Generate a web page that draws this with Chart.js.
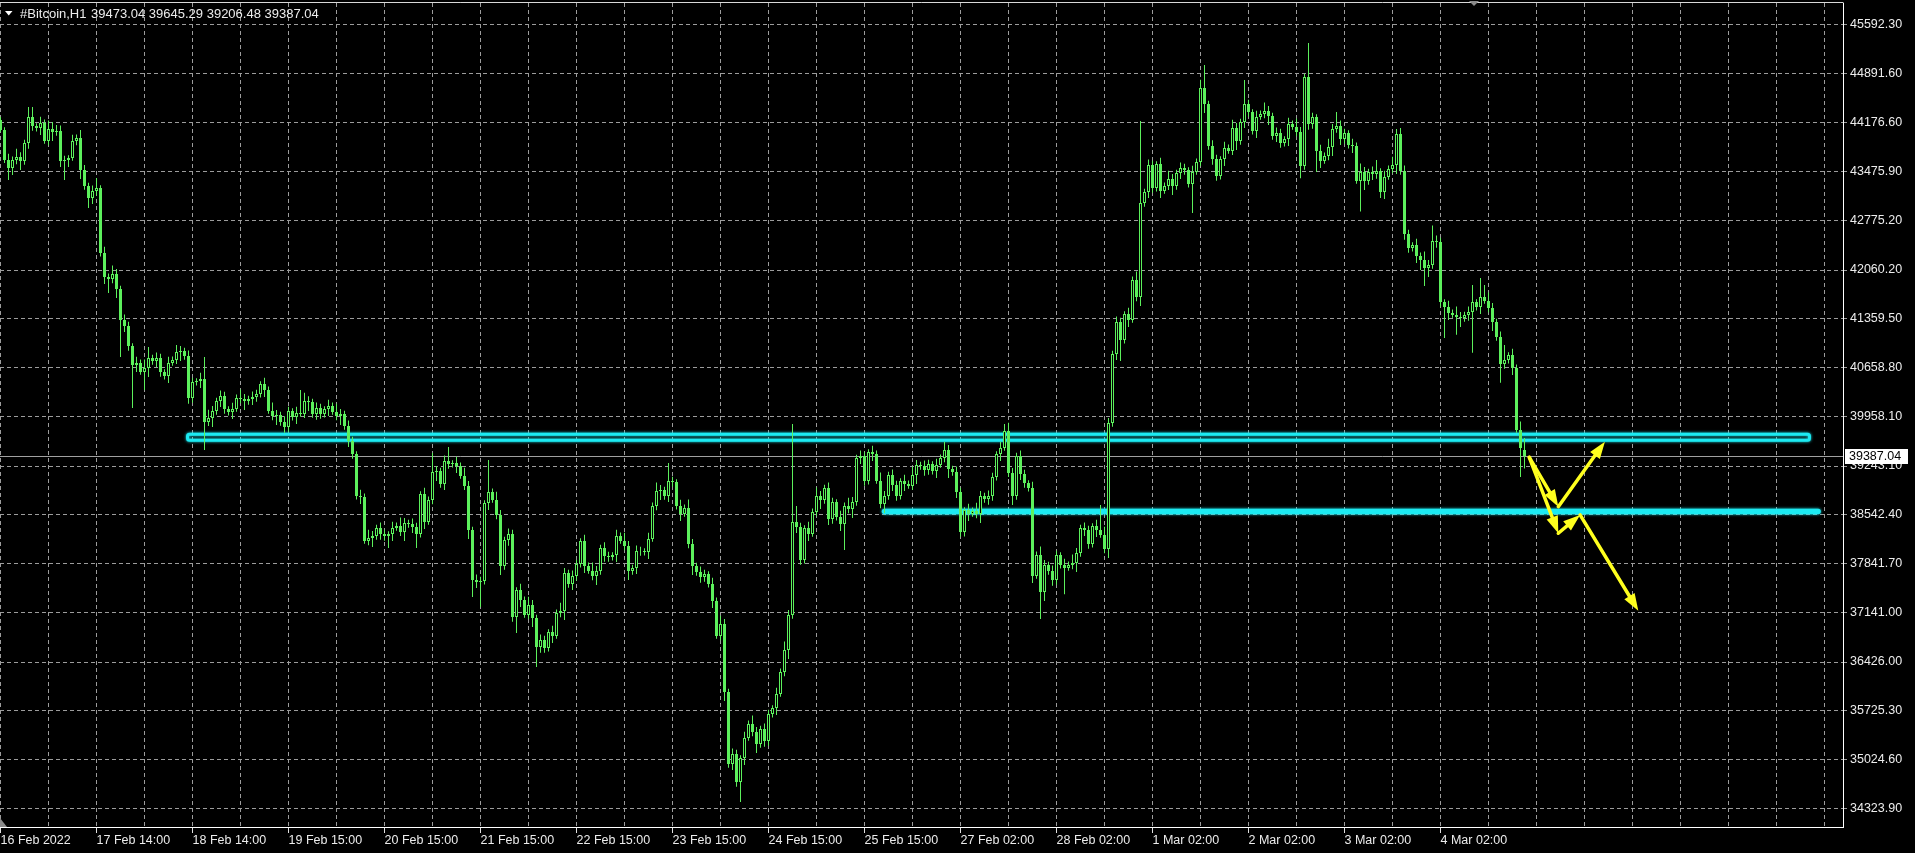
<!DOCTYPE html>
<html>
<head>
<meta charset="utf-8">
<title>#Bitcoin,H1</title>
<script src="https://cdn.jsdelivr.net/npm/chart.js@4.4.1/dist/chart.umd.min.js"></script>
<style>
  html, body { margin: 0; padding: 0; background: #000; overflow: hidden; }
  #wrap { width: 1915px; height: 853px; }
  canvas { display: block; }
</style>
</head>
<body>
<div id="wrap"><canvas id="chart" width="1915" height="853"></canvas></div>
<script>
/* #Bitcoin, H1 - hourly bars 16 Feb 2022 .. 4 Mar 2022 (bar index on x) */

const opens = [44217,44073,43642,43527,43642,43685,43628,43887,44260,44131,
  44102,44174,43915,44088,44045,44059,43628,43642,43671,43915,
  43958,43499,43269,43096,43197,43240,42306,41961,41932,42004,
  41788,41343,41256,40969,40696,40725,40595,40653,40796,40753,
  40796,40595,40538,40725,40768,40883,40897,40825,40222,40452,
  40466,40495,39877,39934,40035,40178,40250,40063,40020,40063,
  40222,40207,40178,40207,40236,40279,40423,40337,40035,39963,
  39977,39877,39805,40035,39948,40006,39992,40178,40164,39992,
  40078,39992,40063,40107,40020,39963,39992,39819,39603,39417,
  38813,38799,38166,38209,38238,38353,38267,38238,38267,38353,
  38382,38296,38425,38410,38367,38267,38842,38439,38755,39158,
  39172,38985,39316,39273,39287,39244,39100,38957,38324,37606,
  37577,37591,38712,38870,38755,38540,37807,38181,38267,37074,
  37462,37318,37103,37246,37060,36643,36743,36628,36858,36801,
  37131,37160,37706,37548,37663,37836,38166,37807,37735,37663,
  37735,38066,37951,37936,37965,38238,38166,38094,37735,37778,
  38022,38022,38008,38195,38669,38885,38899,38813,39029,39014,
  38669,38554,38641,38123,37807,37721,37649,37692,37548,37304,
  36801,36973,35996,34961,35105,34702,35047,35335,35536,35421,
  35248,35464,35292,35680,35766,35967,36283,36600,37103,38439,
  38367,37893,38353,38267,38583,38813,38755,38928,38482,38727,
  38511,38410,38669,38626,38727,39359,39388,39029,39445,39417,
  39029,38698,38813,39115,38971,38813,39029,38985,38957,39115,
  39259,39244,39187,39273,39172,39259,39359,39474,39201,39158,
  38870,38296,38612,38554,38597,38554,38813,38770,38813,39086,
  39417,39503,39747,39144,38813,39388,39129,39000,38928,37663,
  37965,37433,37821,37735,37606,37965,37821,37778,37821,37850,
  37994,38353,38324,38123,38382,38324,38252,38051,39862,40854,
  41314,41055,41429,41343,41918,41673,43024,43182,43570,43240,
  43585,43197,43269,43369,43269,43455,43527,43499,43297,43470,
  43614,44677,44447,43844,43657,43412,43657,43815,43772,44102,
  43915,44188,44447,44332,44059,44260,44303,44347,44275,43987,
  44030,43887,43944,44160,44117,44045,43556,44835,44160,44260,
  43772,43628,43700,43829,44088,44131,43944,44030,43858,43844,
  43340,43470,43340,43470,43441,43484,43182,43398,43513,43570,
  44016,43484,42579,42377,42421,42262,42205,42090,42133,42478,
  42464,41601,41530,41443,41415,41386,41371,41415,41458,41601,
  41530,41673,41616,41515,41314,41098,40710,40768,40840,40653,
  39762,39473.04];

const highs = [44260,44113,43732,43692,43805,43755,43932,44404,44404,44171,
  44264,44224,44208,44188,44145,44139,43702,43711,44005,44008,
  44073,43569,43314,43277,43384,43280,42396,42011,42124,42074,
  41833,41423,41316,41009,40815,40775,40773,40954,40841,40876,
  40856,40635,40815,40818,40983,40967,40942,40905,40512,40506,
  40585,40811,40054,40105,40223,40330,40310,40103,40153,40272,
  40342,40277,40252,40316,40339,40463,40513,40387,40155,40047,
  40022,39957,40095,40075,40096,40337,40298,40248,40209,40158,
  40138,40103,40197,40157,40140,40062,40037,39899,39663,39457,
  38903,38849,38329,38308,38398,38433,38327,38307,38443,38432,
  38502,38495,38470,38490,38427,38882,38932,38805,39431,39242,
  39217,39396,39517,39327,39377,39294,39220,39027,38369,37686,
  37651,38752,39330,38920,38875,38610,38226,38347,38327,37502,
  37552,37368,37366,37316,37105,36823,36803,36898,36948,37181,
  37280,37776,37751,37743,37896,38206,38256,37857,37855,37805,
  38111,38146,38011,38005,38328,38288,38286,38164,37823,38102,
  38082,38062,38285,38719,39005,38969,38944,39287,39089,39054,
  38759,38691,38761,38193,37852,37801,37752,37732,37638,37354,
  37093,37043,36041,35185,35165,35087,35425,35586,35656,35491,
  35509,35544,35740,35806,36057,36333,36720,37173,39848,38669,
  38427,38393,38443,38633,38933,38883,38973,39008,38787,38767,
  38601,38719,38789,38797,39404,39468,39448,39485,39535,39467,
  39149,38883,39160,39195,39031,39069,39119,39035,39235,39329,
  39304,39324,39333,39313,39349,39409,39594,39544,39246,39238,
  38930,38652,38702,38647,38717,38883,38858,38893,39146,39457,
  39593,39848,39867,39214,39433,39468,39189,39040,39018,38015,
  38085,37891,37866,37815,38025,38005,37911,37871,37970,38064,
  38398,38433,38384,38422,38472,38683,38372,39932,40899,41394,
  41374,41469,41519,41968,42038,44203,43227,43650,43630,43625,
  43675,43319,43489,43439,43500,43607,43587,43539,43560,43664,
  44797,45008,44492,43924,43717,43697,43905,43865,44222,44172,
  44233,44792,44507,44372,44350,44353,44467,44417,44320,44110,
  44090,43984,44250,44210,44237,44115,44880,45324,44320,44300,
  43862,43750,43949,44158,44330,44211,44090,44070,43948,43894,
  43590,43540,43515,43550,43642,43524,43488,43563,43690,44086,
  44102,43564,42639,42461,42511,42312,42325,42203,42700,42558,
  42524,41641,41620,41493,41535,41456,41460,41538,41846,41641,
  41946,41846,41736,41585,41359,41178,40983,40880,40930,40703,
  39882,39645.29];

const lows = [44045,43599,43355,43427,43582,43498,43573,43802,44061,44052,
  44002,43875,43855,43915,43990,43543,43355,43542,43631,43855,
  43369,43214,42953,43011,43127,42256,41861,41731,41872,41658,
  40811,41171,40899,40078,40596,40555,40337,40523,40698,40668,
  40525,40488,40438,40685,40708,40753,40770,40137,40152,40402,
  40366,39474,39817,39804,39980,40093,39993,39970,39920,40023,
  40147,40048,40123,40122,40166,40229,40237,39995,39903,39833,
  39822,39720,39735,39898,39848,39952,39932,40034,39937,39907,
  39922,39942,39963,39980,39903,39833,39764,39518,39347,38763,
  38699,38126,38106,38079,38183,38182,38168,38066,38167,38313,
  38236,38166,38355,38282,38066,38217,38339,38399,38695,39028,
  38930,38900,39203,39223,39144,39060,38897,38194,37361,37492,
  37218,37541,38612,38715,38480,37677,37752,38096,37004,36844,
  37218,37063,37043,36930,36355,36558,36558,36578,36701,36761,
  37071,37030,37493,37463,37593,37786,37707,37695,37603,37533,
  37680,37866,37866,37886,37865,38126,38034,37605,37680,37693,
  37952,37958,37908,38155,38609,38755,38758,38728,38944,38619,
  38454,38514,38063,37677,37666,37564,37579,37498,37204,36761,
  36741,35866,34906,34876,34632,34415,34947,35295,35361,35118,
  35193,35207,35222,35630,35666,35927,36223,36470,37048,38282,
  37823,37843,38167,38227,38523,38625,38700,38397,38412,38461,
  38310,38037,38566,38496,38672,39274,38959,38979,39317,38989,
  38638,38568,38758,38886,38743,38763,38885,38917,38897,38985,
  39189,39102,39117,39122,39072,39219,39299,39071,39103,38785,
  38226,38230,38454,38514,38494,38424,38715,38685,38743,39036,
  39317,39463,39084,38683,38758,39044,38930,38878,37563,37623,
  37045,37303,37680,37521,37536,37771,37400,37738,37761,37720,
  37939,38239,38053,38073,38224,38212,37991,37921,39807,40769,
  40753,41005,41243,41303,41613,41543,42969,43097,43170,43190,
  43097,43157,43209,43139,43214,43370,43429,43247,42880,43430,
  43554,44317,43789,43572,43342,43362,43557,43732,43712,43785,
  43860,44103,44262,44009,43959,44220,44243,44145,43932,43902,
  43817,43837,43844,44077,43985,43380,43501,44075,44090,43470,
  43528,43588,43640,43699,44033,43859,43874,43808,43744,43300,
  42900,43210,43285,43356,43371,43096,43082,43358,43453,43440,
  43429,42494,42307,42327,42162,42061,41830,41960,42078,42379,
  41531,41084,41343,41375,41130,41241,41316,41330,40870,41480,
  41430,41576,41455,41184,41043,40440,40640,40718,40553,39722,
  39086,39206.48];

const closes = [44073,43642,43527,43642,43685,43628,43887,44260,44131,44102,
  44174,43915,44088,44045,44059,43628,43642,43671,43915,43958,
  43499,43269,43096,43197,43240,42306,41961,41932,42004,41788,
  41343,41256,40969,40696,40725,40595,40653,40796,40753,40796,
  40595,40538,40725,40768,40883,40897,40825,40222,40452,40466,
  40495,39877,39934,40035,40178,40250,40063,40020,40063,40222,
  40207,40178,40207,40236,40279,40423,40337,40035,39963,39977,
  39877,39805,40035,39948,40006,39992,40178,40164,39992,40078,
  39992,40063,40107,40020,39963,39992,39819,39603,39417,38813,
  38799,38166,38209,38238,38353,38267,38238,38267,38353,38382,
  38296,38425,38410,38367,38267,38842,38439,38755,39158,39172,
  38985,39316,39273,39287,39244,39100,38957,38324,37606,37577,
  37591,38712,38870,38755,38540,37807,38181,38267,37074,37462,
  37318,37103,37246,37060,36643,36743,36628,36858,36801,37131,
  37160,37706,37548,37663,37836,38166,37807,37735,37663,37735,
  38066,37951,37936,37965,38238,38166,38094,37735,37778,38022,
  38022,38008,38195,38669,38885,38899,38813,39029,39014,38669,
  38554,38641,38123,37807,37721,37649,37692,37548,37304,36801,
  36973,35996,34961,35105,34702,35047,35335,35536,35421,35248,
  35464,35292,35680,35766,35967,36283,36600,37103,38439,38367,
  37893,38353,38267,38583,38813,38755,38928,38482,38727,38511,
  38410,38669,38626,38727,39359,39388,39029,39445,39417,39029,
  38698,38813,39115,38971,38813,39029,38985,38957,39115,39259,
  39244,39187,39273,39172,39259,39359,39474,39201,39158,38870,
  38296,38612,38554,38597,38554,38813,38770,38813,39086,39417,
  39503,39747,39144,38813,39388,39129,39000,38928,37663,37965,
  37433,37821,37735,37606,37965,37821,37778,37821,37850,37994,
  38353,38324,38123,38382,38324,38252,38051,39862,40854,41314,
  41055,41429,41343,41918,41673,43024,43182,43570,43240,43585,
  43197,43269,43369,43269,43455,43527,43499,43297,43470,43614,
  44677,44447,43844,43657,43412,43657,43815,43772,44102,43915,
  44188,44447,44332,44059,44260,44303,44347,44275,43987,44030,
  43887,43944,44160,44117,44045,43556,44835,44160,44260,43772,
  43628,43700,43829,44088,44131,43944,44030,43858,43844,43340,
  43470,43340,43470,43441,43484,43182,43398,43513,43570,44016,
  43484,42579,42377,42421,42262,42205,42090,42133,42478,42464,
  41601,41530,41443,41415,41386,41371,41415,41458,41601,41530,
  41673,41616,41515,41314,41098,40710,40768,40840,40653,39762,
  39503,39387.04];

// price scale labels on the right
const yTickValues = [45592.30, 44891.60, 44176.60, 43475.90, 42775.20, 42060.20, 41359.50, 40658.80,
  39958.10, 39243.10, 38542.40, 37841.70, 37141.00, 36426.00, 35725.30, 35024.60, 34323.90];

// time labels, placed on bar indexes
const xLabelBars = [0, 24, 48, 72, 96, 120, 144, 168, 192, 216, 240, 264, 288, 312, 336, 360];
const xLabelTexts = ['16 Feb 2022', '17 Feb 14:00', '18 Feb 14:00', '19 Feb 15:00', '20 Feb 15:00',
  '21 Feb 15:00', '22 Feb 15:00', '23 Feb 15:00', '24 Feb 15:00', '25 Feb 15:00', '27 Feb 02:00',
  '28 Feb 02:00', '1 Mar 02:00', '2 Mar 02:00', '3 Mar 02:00', '4 Mar 02:00'];

// drawn objects (bar index, price)
const upperZoneBars = [46.75, 452.25];
const upperZonePrices = [39701, 39615];
const lowerLineBars = [221, 454.4];
const lowerLinePrice = 38590;
const arrowBars = [[382.2, 389.45], [389.45, 401.1], [382.2, 389.45], [389.45, 394.9], [394.9, 409.45]];
const arrowPrices = [[39369, 38659], [38659, 39593], [39369, 38277], [38277, 38540], [38540, 37164]];

const xRange = [-0.125, 460.625];
const yRange = [34055.1, 45898.4];

const GREEN = '#5cf05c';
const CYAN = '#1ceaf2';
const YELLOW = '#ffff1e';
const GRID = '#9c9c9c';
const TEXT = '#ececec';
const FONT = '"Liberation Sans", Arial, sans-serif';

Chart.defaults.font.family = FONT;
Chart.defaults.font.size = 12.5;

const labelByBar = {};
xLabelBars.forEach((b, i) => { labelByBar[b] = xLabelTexts[i]; });

const gridBars = [];
for (let b = 0; b <= 456; b += 12) gridBars.push(b);

const bodies = closes.map((c, i) => ({ x: i, y: [opens[i], c] }));
const wicks = highs.map((h, i) => ({ x: i, y: [lows[i], h] }));

function drawArrow(ctx, x1, y1, x2, y2) {
    const ang = Math.atan2(y2 - y1, x2 - x1);
    const len = 17, half = 6;
    const bx = x2 - Math.cos(ang) * len;
    const by = y2 - Math.sin(ang) * len;
    ctx.beginPath();
    ctx.moveTo(x1, y1);
    ctx.lineTo(bx + Math.cos(ang) * 3, by + Math.sin(ang) * 3);
    ctx.stroke();
    ctx.beginPath();
    ctx.moveTo(x2, y2);
    ctx.lineTo(bx - Math.sin(ang) * half, by + Math.cos(ang) * half);
    ctx.lineTo(bx + Math.sin(ang) * half, by - Math.cos(ang) * half);
    ctx.closePath();
    ctx.fill();
}

const terminalOverlay = {
    id: 'terminalOverlay',
    beforeDatasetsDraw(chart) {
        const { ctx, chartArea: a, scales: { x, y } } = chart;
        ctx.save();
        ctx.beginPath();
        ctx.rect(a.left, a.top, a.right - a.left, a.bottom - a.top);
        ctx.clip();

        // last price line
        const py = Math.round(y.getPixelForValue(closes[closes.length - 1])) + 0.5;
        ctx.strokeStyle = '#a0a0a0';
        ctx.lineWidth = 1;
        ctx.beginPath();
        ctx.moveTo(a.left, py);
        ctx.lineTo(a.right, py);
        ctx.stroke();

        // cyan objects
        ctx.strokeStyle = CYAN;
        ctx.shadowColor = CYAN;
        ctx.shadowBlur = 3;
        const zx1 = x.getPixelForValue(upperZoneBars[0]);
        const zx2 = x.getPixelForValue(upperZoneBars[1]);
        const zy1 = y.getPixelForValue(upperZonePrices[0]);
        const zy2 = y.getPixelForValue(upperZonePrices[1]);
        ctx.lineWidth = 3;
        ctx.beginPath();
        if (ctx.roundRect) ctx.roundRect(zx1, zy1, zx2 - zx1, zy2 - zy1, 2);
        else ctx.rect(zx1, zy1, zx2 - zx1, zy2 - zy1);
        ctx.stroke();

        const ly = y.getPixelForValue(lowerLinePrice);
        ctx.lineWidth = 5.5;
        ctx.lineCap = 'round';
        ctx.beginPath();
        ctx.moveTo(x.getPixelForValue(lowerLineBars[0]), ly);
        ctx.lineTo(x.getPixelForValue(lowerLineBars[1]), ly);
        ctx.stroke();
        ctx.restore();
    },
    afterDatasetsDraw(chart) {
        const { ctx, scales: { x, y } } = chart;
        ctx.save();
        ctx.strokeStyle = YELLOW;
        ctx.fillStyle = YELLOW;
        ctx.lineWidth = 3.5;
        ctx.lineCap = 'round';
        ctx.lineJoin = 'round';
        arrowBars.forEach((bars, i) => {
            drawArrow(ctx,
                x.getPixelForValue(bars[0]), y.getPixelForValue(arrowPrices[i][0]),
                x.getPixelForValue(bars[1]), y.getPixelForValue(arrowPrices[i][1]));
        });
        ctx.restore();
    },
    afterDraw(chart) {
        const { ctx, chartArea: a, scales: { y } } = chart;
        const last = closes.length - 1;
        ctx.save();

        // top frame line
        ctx.strokeStyle = '#d8d8d8';
        ctx.lineWidth = 1;
        ctx.beginPath();
        ctx.moveTo(a.left, a.top - 0.5);
        ctx.lineTo(a.right + 0.5, a.top - 0.5);
        ctx.stroke();

        // header
        ctx.fillStyle = '#ffffff';
        ctx.beginPath();
        ctx.moveTo(5, 11); ctx.lineTo(12.5, 11); ctx.lineTo(8.75, 15.5);
        ctx.closePath();
        ctx.fill();
        ctx.fillStyle = TEXT;
        ctx.font = '13px ' + FONT;
        ctx.textBaseline = 'middle';
        ctx.textAlign = 'left';
        ctx.fillText('#Bitcoin,H1', 20, 14);
        const ohlc = [opens[last], highs[last], lows[last], closes[last]].map(v => v.toFixed(2)).join(' ');
        ctx.fillText(ohlc, 91, 14);

        // last price tag on the scale
        ctx.font = '12.5px ' + FONT;
        const py = Math.round(y.getPixelForValue(closes[last])) + 0.5;
        ctx.fillStyle = '#ffffff';
        ctx.fillRect(a.right + 2, py - 7.5, 63, 15);
        ctx.fillStyle = '#000000';
        ctx.fillText(closes[last].toFixed(2), a.right + 6, py + 0.5);

        // small markers
        ctx.fillStyle = '#8a8a8a';
        ctx.beginPath();
        ctx.moveTo(1469, 1); ctx.lineTo(1479, 1); ctx.lineTo(1474, 6);
        ctx.closePath();
        ctx.fill();
        ctx.beginPath();
        ctx.moveTo(0, a.bottom - 9); ctx.lineTo(7, a.bottom); ctx.lineTo(0, a.bottom);
        ctx.closePath();
        ctx.fill();
        ctx.restore();
    }
};

new Chart(document.getElementById('chart'), {
    type: 'bar',
    data: {
        datasets: [
            {
                label: 'body',
                data: bodies,
                order: 0,
                grouped: false,
                barThickness: 3,
                borderWidth: 1,
                borderSkipped: false,
                inflateAmount: 0,
                borderColor: GREEN,
                backgroundColor: c => (c.raw && c.raw.y[1] > c.raw.y[0]) ? '#000000' : GREEN
            },
            {
                label: 'wick',
                data: wicks,
                order: 1,
                grouped: false,
                barThickness: 1,
                borderWidth: 0,
                inflateAmount: 0,
                backgroundColor: GREEN
            }
        ]
    },
    options: {
        responsive: false,
        animation: false,
        events: [],
        layout: { padding: { top: 3, left: 0, right: 0, bottom: 0 } },
        plugins: { legend: { display: false }, tooltip: { enabled: false } },
        scales: {
            x: {
                type: 'linear',
                min: xRange[0],
                max: xRange[1],
                offset: false,
                bounds: 'data',
                grid: {
                    offset: false,
                    color: GRID,
                    lineWidth: 1,
                    drawTicks: true,
                    tickLength: 6,
                    tickWidth: 1,
                    tickColor: c => (c.tick && labelByBar[c.tick.value] !== undefined) ? '#e0e0e0' : 'rgba(0,0,0,0)'
                },
                border: { display: true, color: '#ffffff', width: 1, dash: [4, 3] },
                ticks: {
                    autoSkip: false,
                    maxRotation: 0,
                    minRotation: 0,
                    align: 'start',
                    padding: 0,
                    color: TEXT,
                    font: { size: 12.5 },
                    callback: v => labelByBar[v] || ''
                },
                afterBuildTicks: s => { s.ticks = gridBars.map(v => ({ value: v })); },
                afterFit: s => { s.height = 26; s.paddingLeft = 0; s.paddingRight = 0; }
            },
            y: {
                type: 'linear',
                position: 'right',
                min: yRange[0],
                max: yRange[1],
                beginAtZero: false,
                bounds: 'data',
                grid: {
                    color: GRID,
                    lineWidth: 1,
                    tickLength: 5,
                    tickColor: GRID,
                    tickBorderDash: [3, 2]
                },
                border: { display: true, color: '#ffffff', width: 1, dash: [4, 3] },
                ticks: {
                    color: TEXT,
                    padding: 2,
                    font: { size: 12.5 },
                    callback: v => Number(v).toFixed(2)
                },
                afterBuildTicks: s => { s.ticks = yTickValues.map(v => ({ value: v })); },
                afterFit: s => { s.width = 72; s.paddingTop = 0; s.paddingBottom = 0; }
            }
        }
    },
    plugins: [terminalOverlay]
});
</script>
</body>
</html>
